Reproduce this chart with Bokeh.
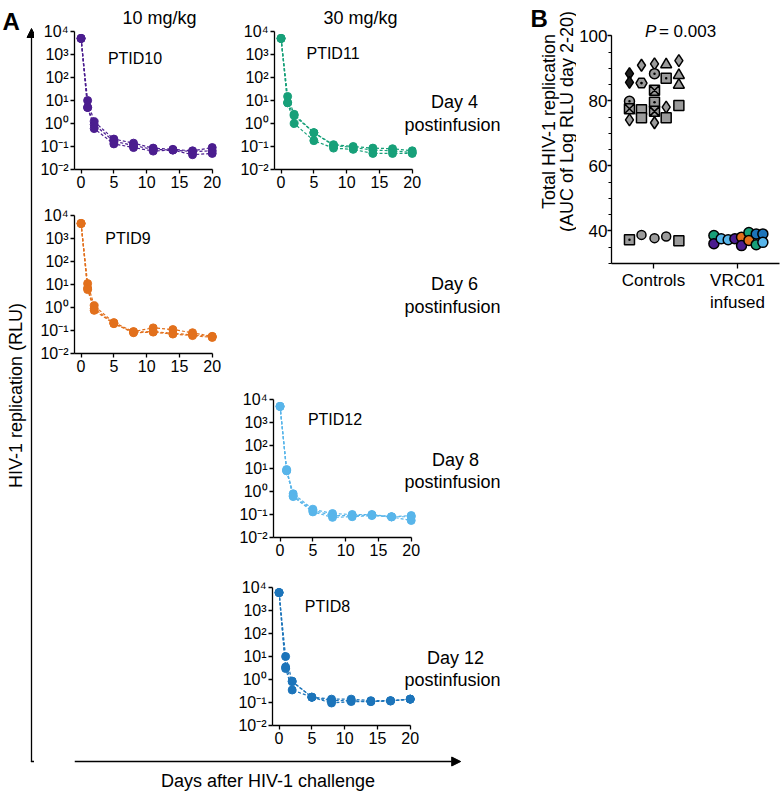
import math
import numpy as np
from bokeh.plotting import figure
from bokeh.models import (Range1d, FixedTicker, Label, Arrow, NormalHead, Spacer,
                          SingleIntervalTicker, ColumnDataSource)
from bokeh.layouts import row, column
from bokeh.embed import file_html
from bokeh.resources import INLINE

FONT = "Liberation Sans"

# ---------------- data: panel A ----------------
days = [0, 1, 2, 5, 8, 11, 14, 17, 20]
ptid10 = [[5000, 10, 1.2, 0.21, 0.14, 0.085, 0.075, 0.065, 0.09],
          [5000, 5, 0.9, 0.17, 0.11, 0.075, 0.07, 0.06, 0.065],
          [5000, 5, 0.6, 0.13, 0.09, 0.063, 0.07, 0.044, 0.05]]
ptid11 = [[5000, 15, 2.5, 0.4, 0.12, 0.1, 0.085, 0.08, 0.065],
          [5000, 8, 2.2, 0.4, 0.11, 0.09, 0.07, 0.065, 0.055],
          [5000, 8, 1.0, 0.18, 0.085, 0.075, 0.05, 0.05, 0.05]]
ptid9 = [[4500, 11, 1.2, 0.22, 0.09, 0.13, 0.11, 0.08, 0.055],
         [4500, 7, 0.9, 0.2, 0.085, 0.09, 0.075, 0.065, 0.055],
         [4500, 6, 0.75, 0.2, 0.08, 0.085, 0.07, 0.06, 0.05]]
ptid12 = [[5000, 9, 0.8, 0.17, 0.11, 0.1, 0.1, 0.08, 0.09],
          [5000, 8, 0.65, 0.15, 0.09, 0.09, 0.095, 0.08, 0.08],
          [5000, 8, 0.6, 0.13, 0.075, 0.08, 0.09, 0.078, 0.055]]
ptid8 = [[6000, 10, 0.85, 0.17, 0.14, 0.14, 0.12, 0.12, 0.14],
         [6000, 3.5, 0.8, 0.17, 0.12, 0.12, 0.11, 0.12, 0.14],
         [6000, 3, 0.35, 0.17, 0.095, 0.11, 0.11, 0.115, 0.14]]

log_ticks = [1e-2, 1e-1, 1e0, 1e1, 1e2, 1e3, 1e4]
log_tick_labels = ["10⁻²", "10⁻¹", "10⁰", "10¹", "10²", "10³", "10⁴"]
day_ticks = [0, 5, 10, 15, 20]

# ---------------- data: panel B ----------------
groups = ["Controls", "VRC01\ninfused"]
ctrl_auc = [88.4, 85.7, 79.9, 77.6, 74.2, 37.3,
            91.0, 85.5, 77.3, 74.8, 38.8,
            91.4, 88.4, 83.3, 79.6, 76.8, 73.3, 37.8,
            91.2, 87.0, 78.1, 74.8, 38.3,
            92.4, 87.9, 84.9, 78.6, 37.0]
vrc_auc = [38.6, 36.1, 37.6, 37.3, 37.6, 38.1, 35.5, 39.5, 37.1, 39.1, 35.8, 39.1, 36.5]
vrc_ptid = ["PTID11", "PTID10", "PTID12", "PTID12", "PTID10", "PTID9", "PTID10",
            "PTID11", "PTID9", "PTID8", "PTID11", "PTID8", "PTID12"]

# styling / jitter (not data)
ctrl_jitter = [-0.286] * 6 + [-0.143] * 5 + [0.012] * 7 + [0.151] * 5 + [0.302] * 5
ctrl_marker = ["diamond", "diamond", "circle_dot", "square_x", "diamond", "square_dot",
               "diamond", "hex_dot", "square", "square", "circle",
               "diamond", "circle_dot", "square_x", "square_dot", "square_x", "diamond", "circle",
               "triangle", "square_dot", "diamond", "square", "circle",
               "diamond", "triangle", "triangle", "square", "square"]
ctrl_dark = [0, 1]
vrc_jitter = [-0.281, -0.281, -0.194, -0.111, -0.031, 0.048, 0.048,
              0.136, 0.136, 0.223, 0.223, 0.302, 0.302]

COL = {"PTID10": "#4B1D8F", "PTID11": "#17A079", "PTID9": "#E2701C",
       "PTID12": "#58B5EA", "PTID8": "#1C74BA"}
MSIZE = {"diamond": 12, "circle_dot": 10, "square_x": 10, "square_dot": 10,
         "hex_dot": 11, "square": 10, "circle": 9, "triangle": 11}

FW, FH = 141, 138          # px for x -1..20.5 and for 6 decades
XR0, XSPAN = -1, 21.5
A_RIGHT = 518              # right edge of panel A


def blank(w, h):
    p = figure(width=w, height=h, x_range=Range1d(0, w), y_range=Range1d(h, 0),
               x_axis_location=None, y_axis_location=None, min_border=0,
               output_backend="svg", toolbar_location=None)
    p.grid.visible = False
    p.outline_line_color = None
    return p


def text(p, x, y, s, size="18px", align="center", baseline="middle", angle=0,
         style="normal"):
    p.add_layout(Label(x=x, y=y, text=s, text_font=FONT, text_font_size=size,
                       text_align=align, text_baseline=baseline, angle=angle,
                       text_font_style=style, text_color="black"))


def style_axes(p, fs):
    p.axis.axis_line_width = 1.3
    p.axis.axis_line_color = "black"
    p.axis.major_tick_line_width = 1.3
    p.axis.major_tick_line_color = "black"
    p.axis.major_tick_in = 0
    p.axis.major_tick_out = 4
    p.axis.major_label_text_font = FONT
    p.axis.major_label_text_font_size = fs
    p.axis.major_label_text_color = "black"
    p.axis.major_label_standoff = 2
    p.grid.visible = False
    p.outline_line_color = None
    p.min_border_top = 0
    p.min_border_right = 0


class Sub:
    def __init__(self, fig_left, fig_right, fig_top, fig_h, frame_left, frame_bottom,
                 series, color, name, name_xy):
        w = fig_right - fig_left
        self.fl, self.fb = frame_left, frame_bottom
        left = frame_left - fig_left
        xr = (XR0, XR0 + (fig_right - frame_left) * XSPAN / FW)
        ytop = 10 ** (-2 + (frame_bottom - fig_top) * 6 / FH)
        p = figure(width=w, height=fig_h, y_axis_type="log",
                   x_range=Range1d(*xr), y_range=Range1d(1e-2, ytop),
                   min_border_left=left,
                   min_border_bottom=fig_top + fig_h - frame_bottom,
                   output_backend="svg", toolbar_location=None)
        style_axes(p, "16px")
        p.yaxis.ticker = FixedTicker(ticks=log_ticks, minor_ticks=[])
        p.yaxis.major_label_overrides = dict(zip(log_ticks, log_tick_labels))
        p.yaxis.bounds = (1e-2, 1e4)
        p.xaxis.ticker = FixedTicker(ticks=day_ticks, minor_ticks=[])
        p.xaxis.bounds = (XR0, 20)
        for rep in series:
            p.line(days, rep, line_color=color, line_width=1.2, line_dash="3 2")
            p.scatter(days, rep, size=8, color=color)
        self.p = p
        self.text(name_xy[0], name_xy[1], name, size="16px")

    def text(self, lx, ly, s, size="18px"):
        x = XR0 + (lx - self.fl) * XSPAN / FW
        y = 10 ** (-2 + (self.fb - ly) * 6 / FH)
        text(self.p, x, y, s, size=size)


# ---- row 1 (y 0..199) ----
s10 = Sub(34, 234, 0, 199, 74, 169, ptid10, COL["PTID10"], "PTID10", (134.5, 58))
s10.text(159, 17, "10 mg/kg")
s11 = Sub(234, A_RIGHT, 0, 199, 274, 169, ptid11, COL["PTID11"], "PTID11", (332.5, 53))
s11.text(360, 17, "30 mg/kg")
s11.text(454, 101, "Day 4")
s11.text(452, 124, "postinfusion")

# ---- row 2 (y 199..383) ----
s9 = Sub(34, A_RIGHT, 199, 184, 74, 353, ptid9, COL["PTID9"], "PTID9", (127.5, 238))
s9.text(454, 283, "Day 6")
s9.text(452, 306, "postinfusion")

# ---- row 3 (y 383..567) ----
s12 = Sub(234, A_RIGHT, 383, 184, 273, 537, ptid12, COL["PTID12"], "PTID12", (334.5, 419))
s12.text(455, 459, "Day 8")
s12.text(452, 481, "postinfusion")

# ---- row 4 (y 567..755) ----
s8 = Sub(234, A_RIGHT, 567, 188, 272, 725, ptid8, COL["PTID8"], "PTID8", (327, 606))
s8.text(455, 657, "Day 12")
s8.text(452, 679, "postinfusion")

# ---- big axes of panel A ----
left = blank(34, 796)
left.add_layout(Arrow(end=NormalHead(size=9, fill_color="black", line_color="black"),
                      x_start=31, y_start=761.6, x_end=31, y_end=28,
                      line_width=1.3, line_color="black"))
left.add_layout(Arrow(end=None, x_start=30.4, y_start=761, x_end=34, y_end=761,
                      line_width=1.3, line_color="black"))
text(left, 15, 395, "HIV-1 replication (RLU)", angle=math.pi / 2)
text(left, 2, 21, "A", size="24px", align="left", baseline="alphabetic", style="bold")

bottom = blank(484, 41)
bottom.add_layout(Arrow(end=NormalHead(size=9, fill_color="black", line_color="black"),
                        x_start=0, y_start=6, x_end=421, y_end=6,
                        line_width=1.3, line_color="black"))
text(bottom, 211, 25, "Days after HIV-1 challenge")

colA = column(row(s10.p, s11.p), s9.p,
              row(Spacer(width=200, height=184), s12.p),
              row(Spacer(width=200, height=188), s8.p), bottom)

# ---------------- panel B ----------------
B_FL, B_FB, B_PXY = 609, 267, 3.3
pB = figure(width=205, height=315, x_range=Range1d(0, 2),
            y_range=Range1d(30, 100 + 36 / B_PXY),
            min_border_left=33, min_border_right=2, min_border_top=0,
            min_border_bottom=315 - B_FB, output_backend="svg", toolbar_location=None)
style_axes(pB, "17px")
pB.min_border_right = 2
pB.yaxis.major_label_text_font_size = "17px"
pB.yaxis.major_label_standoff = 0
pB.yaxis.bounds = (30, 100)
pB.yaxis.ticker = SingleIntervalTicker(interval=20, num_minor_ticks=4)
pB.yaxis.minor_tick_out = 3
pB.yaxis.minor_tick_in = 0
pB.yaxis.minor_tick_line_width = 1.2
pB.yaxis.minor_tick_line_color = "black"
pB.xaxis.ticker = FixedTicker(ticks=[0.5, 1.5], minor_ticks=[])
pB.xaxis.major_tick_out = 5
pB.xaxis.major_label_overrides = {0.5: groups[0], 1.5: groups[1]}

ctrl_fill = ["#1e1e1e" if i in ctrl_dark else "#9b9b9b" for i in range(len(ctrl_auc))]
src_c = ColumnDataSource(dict(x=0.5 + np.array(ctrl_jitter), y=ctrl_auc, m=ctrl_marker,
                              s=[MSIZE[m] for m in ctrl_marker], f=ctrl_fill))
pB.scatter(x="x", y="y", marker="m", size="s", fill_color="f", line_color="black",
           line_width=1.5, source=src_c)
src_v = ColumnDataSource(dict(x=1.5 + np.array(vrc_jitter), y=vrc_auc,
                              f=[COL[k] for k in vrc_ptid]))
pB.scatter(x="x", y="y", marker="circle", size=10, fill_color="f", line_color="black",
           line_width=1.5, source=src_v)


def btext(lx, ly, s, **kw):
    x = (lx - B_FL) / 85.0
    y = 30 + (B_FB - ly) / B_PXY
    text(pB, x, y, s, **kw)


btext(643, 31, "P", size="17px", align="left", style="italic")
btext(657, 31, "= 0.003", size="17px", align="left")

bstrip = blank(58, 315)
text(bstrip, 12, 21, "B", size="24px", align="left", baseline="alphabetic", style="bold")
text(bstrip, 30, 145, "Total HIV-1 replication", size="18px", angle=math.pi / 2)
text(bstrip, 48, 145, "(AUC of Log RLU day 2-20)", size="18px", angle=math.pi / 2)

colB = column(row(bstrip, pB), Spacer(width=263, height=481))

layout = row(left, colA, colB)
open("out.html", "w").write(file_html(layout, INLINE))
